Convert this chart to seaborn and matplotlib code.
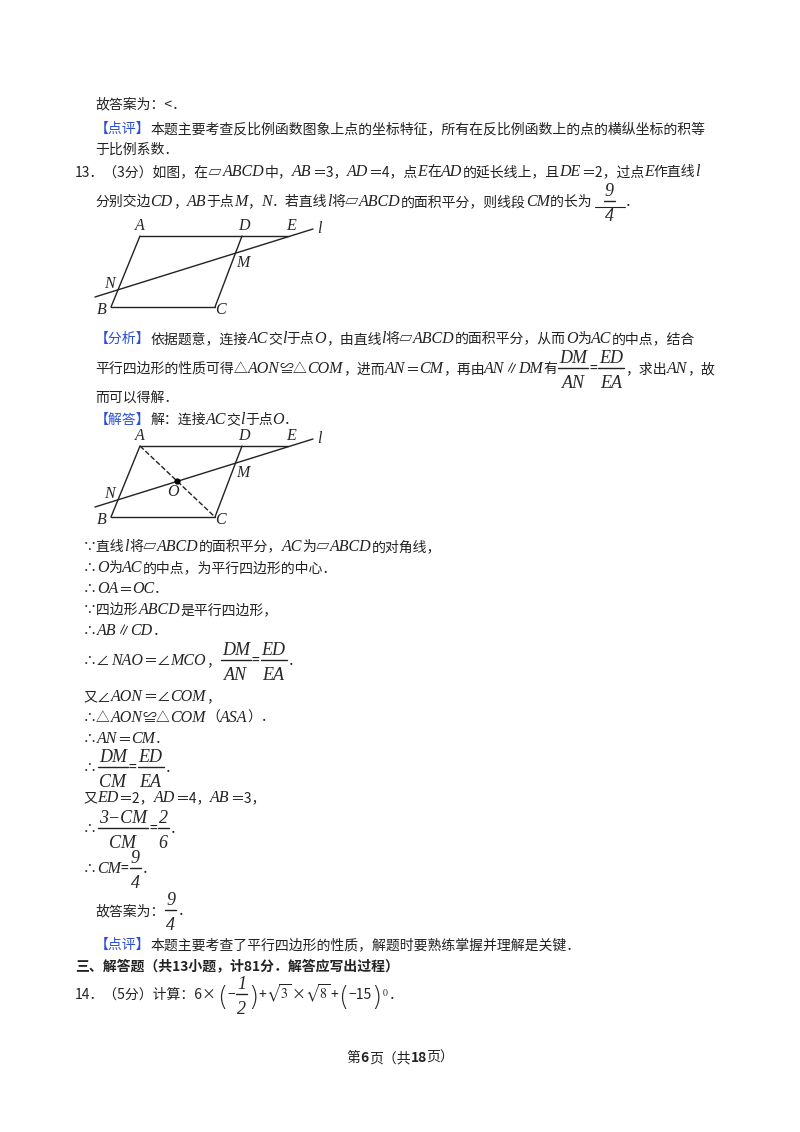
import matplotlib
matplotlib.use("Agg")
import matplotlib.pyplot as plt
import seaborn as sns
import pandas as pd

sns.set_theme(style="white")
plt.rcParams['font.family'] = ['Noto Sans CJK SC', 'DejaVu Sans']
plt.rcParams['mathtext.fontset'] = 'stix'

# geometry (figure 1, pixel coords); figure 2 offset
pt_names = ["A", "D", "E", "B", "C", "N", "M"]
pt_x = [140, 242, 288, 111, 215, 118, 236]
pt_y = [236, 236, 236, 307, 307, 290, 259]
line_l_x = [95, 313]
line_l_y = [297, 229]
fig2_dy = 210
O_pt = (177, 481)

fig = plt.figure(figsize=(8, 11.32), dpi=100)
ax = fig.add_axes([0, 0, 1, 1])
ax.set_xlim(0, 800); ax.set_ylim(1132, 0); ax.axis('off')
fig.canvas.draw()
R = fig.canvas.get_renderer()

FS = 10
BLUE = '#2a4fd6'

def width(t):
    bb = t.get_window_extent(renderer=R)
    return bb.width

def seg_line(x, y, segs):
    for s, k in segs:
        kw = dict(fontsize=FS, va='baseline', ha='left', color='#222222')
        yy = y
        if k == 'it':
            kw.update(family='Liberation Serif', style='italic', fontsize=FS + 1.5)
        elif k == 'b':
            kw.update(fontweight='bold')
        elif k == 'blue':
            kw.update(color=BLUE)
        elif k == 'm':
            kw.update(fontsize=FS + 9, family='DejaVu Sans', fontweight='light')
            yy = y + 6
        t = ax.text(x, yy, s, **kw)
        x += width(t)
    return x

FF = ['Liberation Serif', 'DejaVu Serif']

def frac(x, y, num, den):
    n = ax.text(0, 0, num, fontsize=FS + 3, family=FF, style='italic')
    d = ax.text(0, 0, den, fontsize=FS + 3, family=FF, style='italic')
    w = max(width(n), width(d)) + 4
    n.remove(); d.remove()
    cx = x + w / 2
    ax.text(cx, y - 10, num, fontsize=FS + 3, family=FF, style='italic', ha='center', va='baseline')
    ax.text(cx, y + 15, den, fontsize=FS + 3, family=FF, style='italic', ha='center', va='baseline')
    ax.plot([x + 1, x + w - 1], [y - 5, y - 5], color='#222222', lw=1)
    return x + w

# ---- text ----
seg_line(95, 108, [("故答案为：<．", 'n')])
seg_line(95, 133, [("【点评】", 'blue'), ("本题主要考查反比例函数图象上点的坐标特征，所有在反比例函数上的点的横纵坐标的积等", 'n')])
seg_line(95, 154, [("于比例系数．", 'n')])
seg_line(75, 176, [("13．（3分）如图，在▱", 'n'), ("ABCD", 'it'), ("中，", 'n'), ("AB", 'it'), ("＝3，", 'n'), ("AD", 'it'),
                   ("＝4，点", 'n'), ("E", 'it'), ("在", 'n'), ("AD", 'it'), ("的延长线上，且", 'n'), ("DE", 'it'),
                   ("＝2，过点", 'n'), ("E", 'it'), ("作直线", 'n'), ("l", 'it')])
x = seg_line(95, 206, [("分别交边", 'n'), ("CD", 'it'), ("，", 'n'), ("AB", 'it'), ("于点", 'n'), ("M", 'it'), ("，", 'n'),
                       ("N", 'it'), ("．若直线", 'n'), ("l", 'it'), ("将▱", 'n'), ("ABCD", 'it'),
                       ("的面积平分，则线段", 'n'), ("CM", 'it'), ("的长为 ", 'n')])
ax.plot([x, x + 30], [207, 207], color='#222222', lw=0.8)
frac(x + 8, 206, "9", "4")
seg_line(x + 30, 206, [("．", 'n')])

seg_line(95, 343, [("【分析】", 'blue'), ("依据题意，连接", 'n'), ("AC", 'it'), ("交", 'n'), ("l", 'it'), ("于点", 'n'), ("O", 'it'),
                   ("，由直线", 'n'), ("l", 'it'), ("将▱", 'n'), ("ABCD", 'it'), ("的面积平分，从而", 'n'), ("O", 'it'),
                   ("为", 'n'), ("AC", 'it'), ("的中点，结合", 'n')])
x = seg_line(95, 373, [("平行四边形的性质可得△", 'n'), ("AON", 'it'), ("≌△", 'n'), ("COM", 'it'), ("，进而", 'n'),
                       ("AN", 'it'), ("＝", 'n'), ("CM", 'it'), ("，再由", 'n'), ("AN", 'it'), ("∥", 'n'), ("DM", 'it'), ("有", 'n')])
x = frac(x, 373, "DM", "AN")
x = seg_line(x, 373, [("=", 'n')])
x = frac(x, 373, "ED", "EA")
seg_line(x, 373, [("，求出", 'n'), ("AN", 'it'), ("，故", 'n')])
seg_line(95, 403, [("而可以得解．", 'n')])
seg_line(95, 424, [("【解答】", 'blue'), ("解：连接", 'n'), ("AC", 'it'), ("交", 'n'), ("l", 'it'), ("于点", 'n'), ("O", 'it'), ("．", 'n')])

seg_line(83, 551, [("∵直线", 'n'), ("l", 'it'), ("将▱", 'n'), ("ABCD", 'it'), ("的面积平分，", 'n'), ("AC", 'it'),
                   ("为▱", 'n'), ("ABCD", 'it'), ("的对角线，", 'n')])
seg_line(83, 572, [("∴", 'n'), ("O", 'it'), ("为", 'n'), ("AC", 'it'), ("的中点，为平行四边形的中心．", 'n')])
seg_line(83, 593, [("∴", 'n'), ("OA", 'it'), ("＝", 'n'), ("OC", 'it'), ("．", 'n')])
seg_line(83, 614, [("∵四边形", 'n'), ("ABCD", 'it'), ("是平行四边形，", 'n')])
seg_line(83, 635, [("∴", 'n'), ("AB", 'it'), ("∥", 'n'), ("CD", 'it'), ("．", 'n')])
x = seg_line(83, 665, [("∴∠", 'n'), ("NAO", 'it'), ("＝∠", 'n'), ("MCO", 'it'), ("，", 'n')])
x = frac(x, 665, "DM", "AN")
x = seg_line(x, 665, [("=", 'n')])
x = frac(x, 665, "ED", "EA")
seg_line(x, 665, [("．", 'n')])
seg_line(83, 701, [("又∠", 'n'), ("AON", 'it'), ("＝∠", 'n'), ("COM", 'it'), ("，", 'n')])
seg_line(83, 722, [("∴△", 'n'), ("AON", 'it'), ("≌△", 'n'), ("COM", 'it'), ("（", 'n'), ("ASA", 'it'), ("）．", 'n')])
seg_line(83, 743, [("∴", 'n'), ("AN", 'it'), ("＝", 'n'), ("CM", 'it'), ("．", 'n')])
x = seg_line(83, 772, [("∴", 'n')])
x = frac(x, 772, "DM", "CM")
x = seg_line(x, 772, [("=", 'n')])
x = frac(x, 772, "ED", "EA")
seg_line(x, 772, [("．", 'n')])
seg_line(83, 802, [("又", 'n'), ("ED", 'it'), ("＝2，", 'n'), ("AD", 'it'), ("＝4，", 'n'), ("AB", 'it'), ("＝3，", 'n')])
x = seg_line(83, 833, [("∴", 'n')])
x = frac(x, 833, "3−CM", "CM")
x = seg_line(x, 833, [("=", 'n')])
x = frac(x, 833, "2", "6")
seg_line(x, 833, [("．", 'n')])
x = seg_line(83, 873, [("∴", 'n'), ("CM", 'it'), ("=", 'n')])
x = frac(x, 873, "9", "4")
seg_line(x, 873, [("．", 'n')])
x = seg_line(95, 915, [("故答案为：", 'n')])
x = frac(x, 915, "9", "4")
seg_line(x, 915, [("．", 'n')])
seg_line(95, 949, [("【点评】", 'blue'), ("本题主要考查了平行四边形的性质，解题时要熟练掌握并理解是关键．", 'n')])
seg_line(75, 970, [("三、解答题（共13小题，计81分．解答应写出过程）", 'b')])
x = seg_line(75, 999, [("14．（5分）计算：6×", 'n'), ("(", 'm'), ("−", 'n')])
x = frac(x, 999, "1", "2")
seg_line(x, 999, [(")", 'm'), ("+", 'n'), (r"$\sqrt{3}$", 'n'), ("×", 'n'), (r"$\sqrt{8}$", 'n'), ("+", 'n'),
                  ("(", 'm'), ("−15", 'n'), (")", 'm'), (r"$^{0}$", 'n'), ("．", 'n')])
t = ax.text(0, 0, "第6页（共18页）", fontsize=FS); w = width(t); t.remove()
seg_line(400 - w / 2, 1062, [("第", 'n'), ("6", 'b'), ("页（共", 'n'), ("18", 'b'), ("页）", 'n')])

# ---- geometry ----
def draw_fig(dy, with_o):
    P = dict(zip(pt_names, zip(pt_x, [v + dy for v in pt_y])))
    segs = [("A", "E"), ("A", "B"), ("B", "C"), ("C", "D")]
    for a, b in segs:
        df = pd.DataFrame({'x': [P[a][0], P[b][0]], 'y': [P[a][1], P[b][1]]})
        sns.lineplot(data=df, x='x', y='y', ax=ax, color='#222222', lw=1, sort=False, estimator=None)
    df = pd.DataFrame({'x': line_l_x, 'y': [v + dy for v in line_l_y]})
    sns.lineplot(data=df, x='x', y='y', ax=ax, color='#222222', lw=1, sort=False, estimator=None)
    lab = {"A": (-5, -6), "D": (-4, -6), "E": (-2, -6), "B": (-14, 7), "C": (0, 7), "N": (-14, -2), "M": (0, 8)}
    for k, (dx, ddy) in lab.items():
        ax.text(P[k][0] + dx, P[k][1] + ddy, k, fontsize=FS + 1.5, family='Liberation Serif', style='italic',
                va='baseline')
    ax.text(line_l_x[1] + 4, line_l_y[1] + dy + 4, "l", fontsize=FS + 1.5, family='Liberation Serif',
            style='italic', va='baseline')
    if with_o:
        df = pd.DataFrame({'x': [P["A"][0], P["C"][0]], 'y': [P["A"][1], P["C"][1]]})
        sns.lineplot(data=df, x='x', y='y', ax=ax, color='#222222', lw=1, ls='--', sort=False, estimator=None)
        ax.scatter([O_pt[0]], [O_pt[1]], s=12, color='black', zorder=5)
        ax.text(O_pt[0] - 10, O_pt[1] + 15, "O", fontsize=FS + 1.5, family='Liberation Serif', style='italic',
                va='baseline')

draw_fig(0, False)
draw_fig(fig2_dy, True)
ax.set_xlim(0, 800); ax.set_ylim(1132, 0); ax.axis('off')
fig.savefig("out.png", dpi=100, facecolor='white')
